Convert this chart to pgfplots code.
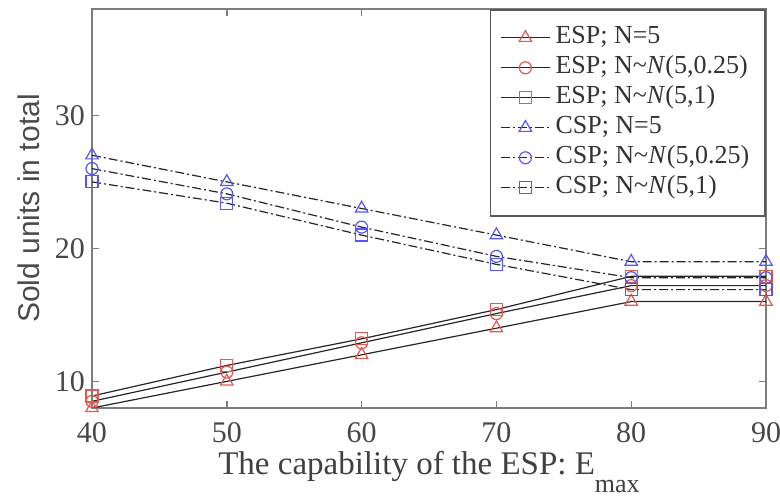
\documentclass[border=0pt]{standalone}
\usepackage{fontspec}
\setmainfont{Liberation Serif}
\setsansfont{Liberation Sans}
\usepackage{pgfplots}
\pgfplotsset{compat=1.18}

\definecolor{espred}{RGB}{228,88,78}
\definecolor{cspblue}{RGB}{85,85,255}
\definecolor{axgray}{RGB}{125,125,125}

\tikzset{dashdot/.style={dash pattern=on 4.5pt off 1.5pt on 1pt off 1.5pt}}

\begin{document}
\begin{tikzpicture}
\begin{axis}[
  at={(0,0)}, anchor=south west,
  scale only axis, width=337pt, height=199.5pt,
  xmin=40, xmax=90, ymin=8, ymax=38,
  xtick={40,50,60,70,80,90}, ytick={10,20,30},
  tick align=inside, major tick length=3.5pt,
  axis line style={draw=axgray, line width=0.9pt},
  every tick/.style={draw=axgray, line width=0.7pt},
  tick label style={font=\fontsize{15}{18}\selectfont, text=black!72},
  /pgf/number format/assume math mode=true,
  x tick label style={yshift=-3.5pt},
  xlabel={The capability of the ESP: E\raisebox{-9pt}{\fontsize{13}{14}\selectfont max}},
  xlabel style={font=\fontsize{16.5}{19}\selectfont, text=black!75, at={(axis description cs:0.50,0)}, anchor=base, yshift=-33.5pt},
  ylabel={Sold units in total},
  ylabel style={font=\sffamily\fontsize{15}{18}\selectfont, text=black!70, at={(axis description cs:-0.0935,0.5)}, anchor=center, rotate=0},
  legend cell align=left,
  legend style={at={(1,1)}, anchor=north east, draw=black!65, line width=0.8pt,
    font=\fontsize{13}{15}\selectfont, text=black!80,
    inner xsep=5pt, inner ysep=8pt, row sep=3pt, column sep=2.5pt,
    nodes={inner sep=0pt, text height=9pt, text depth=3pt}},
  legend image code/.code={\draw[mark repeat=2,mark phase=2,#1] plot coordinates {(0pt,0pt)(12.25pt,0pt)(24.5pt,0pt)};},
]
% ESP: solid black lines, red markers
\addplot[black!85, line width=0.6pt, mark=triangle, mark size=3.6pt, mark options={draw=espred, solid, line width=0.6pt}]
  coordinates {(40,8)(50,10)(60,12)(70,14)(80,16)(90,16)};
\addplot[black!85, line width=0.6pt, mark=o, mark size=3pt, mark options={draw=espred, solid, line width=0.6pt}]
  coordinates {(40,8.5)(50,10.7)(60,12.9)(70,15.1)(80,17.2)(90,17.2)};
\addplot[black!85, line width=0.6pt, mark=square, mark size=3pt, mark options={draw=espred, solid, line width=0.6pt}]
  coordinates {(40,8.9)(50,11.2)(60,13.2)(70,15.4)(80,17.9)(90,17.9)};
% CSP: dash-dot black lines, blue markers
\addplot[black!85, line width=0.6pt, dashdot, mark=triangle, mark size=3.6pt, mark options={draw=cspblue, solid, line width=0.6pt}]
  coordinates {(40,27)(50,25)(60,23)(70,21)(80,19)(90,19)};
\addplot[black!85, line width=0.6pt, dashdot, mark=o, mark size=3pt, mark options={draw=cspblue, solid, line width=0.6pt}]
  coordinates {(40,26)(50,24.1)(60,21.6)(70,19.4)(80,17.8)(90,17.8)};
\addplot[black!85, line width=0.6pt, dashdot, mark=square, mark size=3pt, mark options={draw=cspblue, solid, line width=0.6pt}]
  coordinates {(40,25)(50,23.4)(60,21)(70,18.8)(80,16.9)(90,16.9)};
\legend{ESP; N=5\hspace*{3pt}, ESP; N\textasciitilde\textit{N}(5{,}0.25)\hspace*{3pt}, ESP; N\textasciitilde\textit{N}(5{,}1)\hspace*{3pt},
        CSP; N=5\hspace*{3pt}, CSP; N\textasciitilde\textit{N}(5{,}0.25)\hspace*{3pt}, CSP; N\textasciitilde\textit{N}(5{,}1)\hspace*{3pt}}
\end{axis}
\pgfresetboundingbox
\path[use as bounding box] (-46pt,-46.5pt) rectangle (344pt,204pt);
\end{tikzpicture}
\end{document}
